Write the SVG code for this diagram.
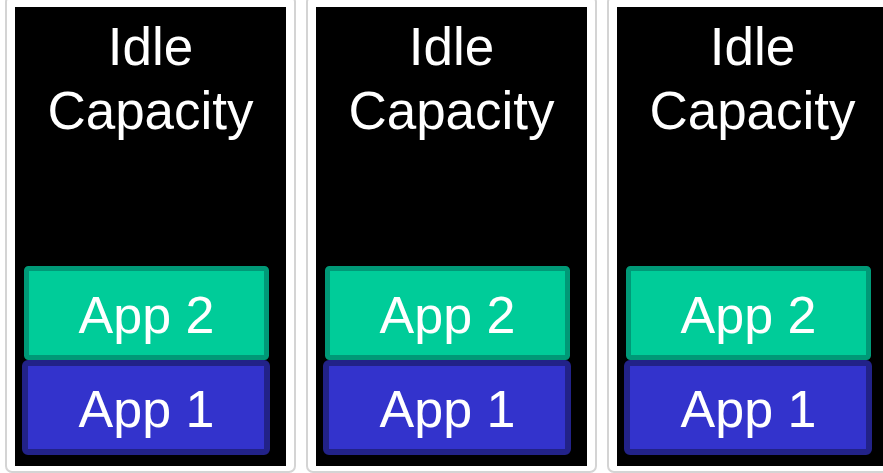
<svg xmlns="http://www.w3.org/2000/svg" width="883" height="473" viewBox="0 0 883 473">
<defs>
<style>
.frame{fill:#ffffff;stroke:#d4d4d4;stroke-width:2}
.bg{fill:#000000}
.app2{fill:#00cc99;stroke:#009977;stroke-width:5}
.app1{fill:#3333cc;stroke:#222288;stroke-width:6}
.t{font-family:"Liberation Sans",Arial,sans-serif;fill:#ffffff;text-anchor:middle}
.title{font-size:53px}
.lbl{font-size:52px}
</style>
<g id="panel">
<rect class="frame" x="6" y="-4" width="289" height="476" rx="6"/>
<rect class="bg" x="15" y="7" width="271" height="459"/>
<text class="t title" x="150.5" y="65">Idle</text>
<text class="t title" x="150.5" y="129">Capacity</text>
<rect class="app2" x="26.5" y="268.5" width="240" height="89" rx="2"/>
<text class="t lbl" x="146.5" y="333">App 2</text>
<rect class="app1" x="25" y="363" width="242" height="89" rx="3"/>
<text class="t lbl" x="146.5" y="427">App 1</text>
</g>
</defs>
<g id="server1"><use href="#panel"/></g>
<g id="server2"><use href="#panel" x="301"/></g>
<g id="server3"><use href="#panel" x="602"/></g>
<g id="connectors"></g>
</svg>
